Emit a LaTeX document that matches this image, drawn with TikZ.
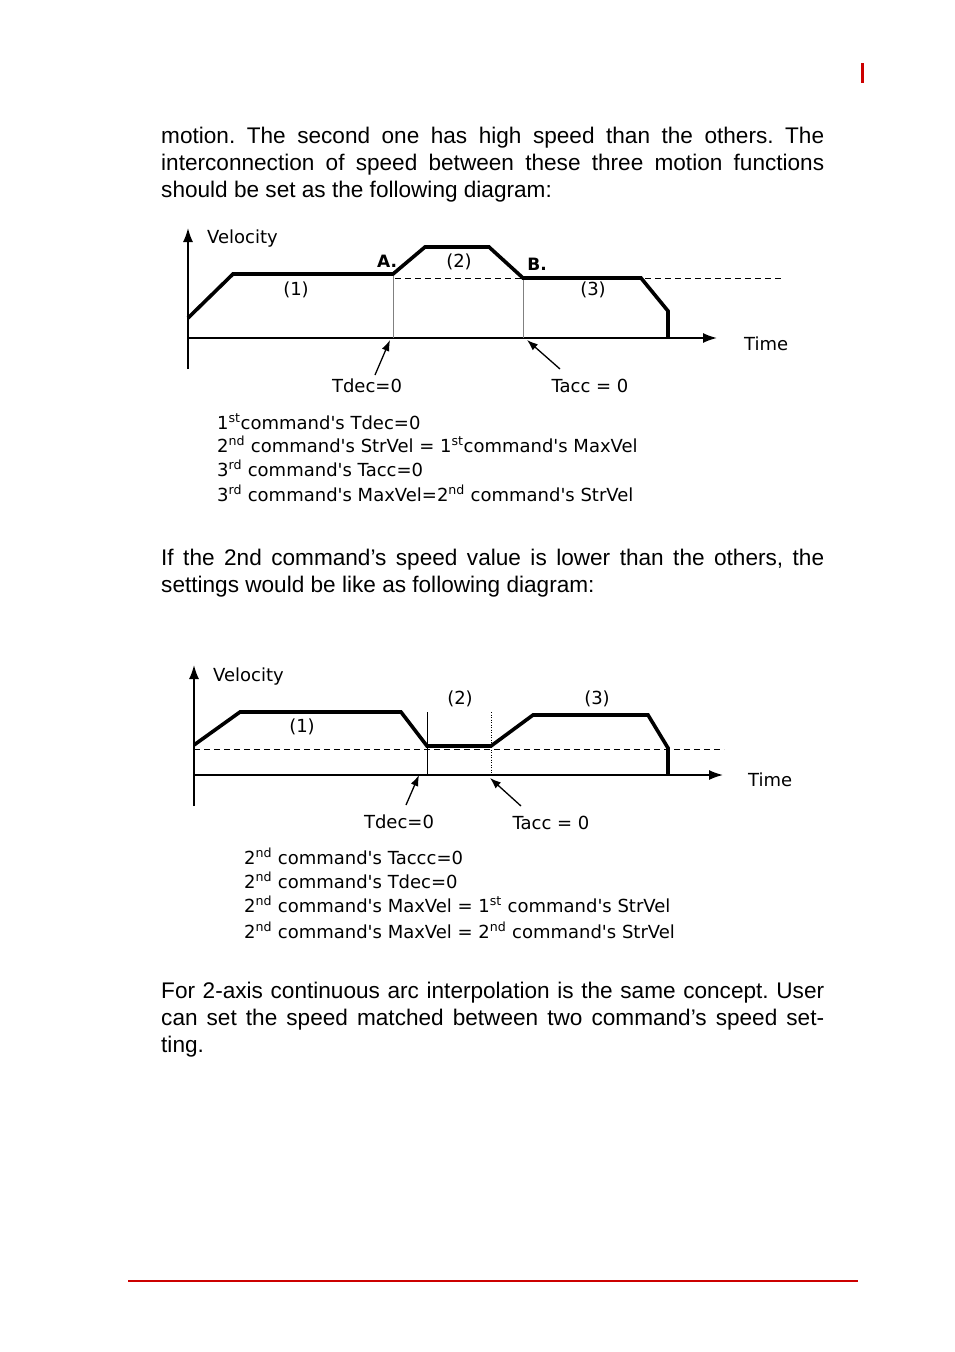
\documentclass[tikz,border=0pt]{standalone}
\usepackage{fontspec}
\setmainfont{Liberation Sans}
\newfontfamily\dia{DejaVu Sans}[Ligatures=TeXOff]
\usetikzlibrary{arrows.meta}
\definecolor{hdrred}{HTML}{CC0000}
\frenchspacing
\begin{document}
\begin{tikzpicture}[x=1pt,y=-1pt,
  body/.style={anchor=base west,inner sep=0pt,font=\fontsize{22.6}{27}\selectfont},
  dtext/.style={inner sep=0pt,font=\dia\fontsize{18}{21}\selectfont},
  note/.style={anchor=base west,inner sep=0pt,font=\dia\fontsize{18}{21}\selectfont},
  prof/.style={line width=3.6pt,line join=miter},
  axisarrow/.style={line width=1.6pt,-{Latex[length=14pt,width=10pt]}},
  ptr/.style={line width=1.3pt,-{Latex[length=11pt,width=8pt]}},
  guide/.style={line width=0.9pt,gray},
  dashln/.style={line width=1pt,dash pattern=on 6pt off 4pt}]
\useasboundingbox (0,0) rectangle (954,1352);
% header / footer marks
\draw[hdrred,line width=3pt] (862.5,63) -- (862.5,83);
\draw[hdrred,line width=2.4pt] (128,1281) -- (858,1281);
% body text
\node[body] (p1) at (161,143) {\makebox[663pt][s]{motion. The second one has high speed than the others. The}};
\node[body] (p2) at (161,170) {\makebox[663pt][s]{interconnection of speed between these three motion functions}};
\node[body] (p3) at (161,197) {should be set as the following diagram:};
\node[body] (p4) at (161,565) {\makebox[663pt][s]{If the 2nd command’s speed value is lower than the others, the}};
\node[body] (p5) at (161,592) {settings would be like as following diagram:};
\node[body] (p6) at (161,998) {\makebox[663pt][s]{For 2-axis continuous arc interpolation is the same concept. User}};
\node[body] (p7) at (161,1025) {\makebox[663pt][s]{can set the speed matched between two command’s speed set-}};
\node[body] (p8) at (161,1052) {ting.};
% ================= top diagram =================
\coordinate (ayb) at (188,369); \coordinate (ayt) at (188,228);
\coordinate (axl) at (188,338); \coordinate (axr) at (717,338);
\draw[axisarrow] (ayb) -- (ayt);
\draw[axisarrow] (axl) -- (axr);
\draw[dashln] (395,278) -- (783,278);
\draw[guide] (393,276) -- (393,338);
\draw[guide] (523,278) -- (523,338);
\draw[prof] (188,318) -- (233,274) -- (393,274) -- (425,247) -- (489,247) -- (523,278) -- (641,278) -- (668,311) -- (668,338);
\node[dtext,anchor=west] (vel1) at (207,239) {Velocity};
\node[dtext,anchor=west] (time1) at (744,344) {Time};
\node[dtext] (l11) at (296,290) {(1)};
\node[dtext] (l12) at (459,262) {(2)};
\node[dtext] (l13) at (593,290) {(3)};
\node[dtext,font=\dia\bfseries\fontsize{17}{20}\selectfont] (la) at (387,261) {A.};
\node[dtext,font=\dia\bfseries\fontsize{17}{20}\selectfont] (lb) at (537,264) {B.};
\node[dtext] (tdec1) at (367,386) {Tdec=0};
\node[dtext] (tacc1) at (590,386) {Tacc = 0};
\coordinate (td1s) at (375,375); \coordinate (td1e) at (390,340);
\coordinate (ta1s) at (560,369); \coordinate (ta1e) at (527,340);
\draw[ptr] (td1s) -- (td1e);
\draw[ptr] (ta1s) -- (ta1e);
\node[note] (n11) at (217,429) {1\textsuperscript{st}command's Tdec=0};
\node[note] (n12) at (217,452) {2\textsuperscript{nd} command's StrVel = 1\textsuperscript{st}command's MaxVel};
\node[note] (n13) at (217,476) {3\textsuperscript{rd} command's Tacc=0};
\node[note] (n14) at (217,501) {3\textsuperscript{rd} command's MaxVel=2\textsuperscript{nd} command's StrVel};
% ================= bottom diagram =================
\coordinate (byb) at (194,806); \coordinate (byt) at (194,665);
\coordinate (bxl) at (194,775); \coordinate (bxr) at (723,775);
\draw[axisarrow] (byb) -- (byt);
\draw[axisarrow] (bxl) -- (bxr);
\draw[dashln] (194,749) -- (724,749);
\draw[guide,black] (427,712) -- (427,775);
\draw[guide,black,dash pattern=on 1pt off 1.5pt] (491,712) -- (491,775);
\draw[prof] (194,745) -- (240,712) -- (401,712) -- (427,746) -- (491,746) -- (533,715) -- (648,715) -- (668,748) -- (668,775);
\node[dtext,anchor=west] (vel2) at (213,677) {Velocity};
\node[dtext,anchor=west] (time2) at (748,780) {Time};
\node[dtext] (l21) at (302,727) {(1)};
\node[dtext] (l22) at (460,699) {(2)};
\node[dtext] (l23) at (597,699) {(3)};
\node[dtext] (tdec2) at (399,822) {Tdec=0};
\node[dtext] (tacc2) at (551,823) {Tacc = 0};
\coordinate (td2s) at (406,805); \coordinate (td2e) at (419,775);
\coordinate (ta2s) at (521,806); \coordinate (ta2e) at (490,778);
\draw[ptr] (td2s) -- (td2e);
\draw[ptr] (ta2s) -- (ta2e);
\node[note] (n21) at (244,864) {2\textsuperscript{nd} command's Taccc=0};
\node[note] (n22) at (244,888) {2\textsuperscript{nd} command's Tdec=0};
\node[note] (n23) at (244,912) {2\textsuperscript{nd} command's MaxVel = 1\textsuperscript{st} command's StrVel};
\node[note] (n24) at (244,938) {2\textsuperscript{nd} command's MaxVel = 2\textsuperscript{nd} command's StrVel};
\end{tikzpicture}
\end{document}
